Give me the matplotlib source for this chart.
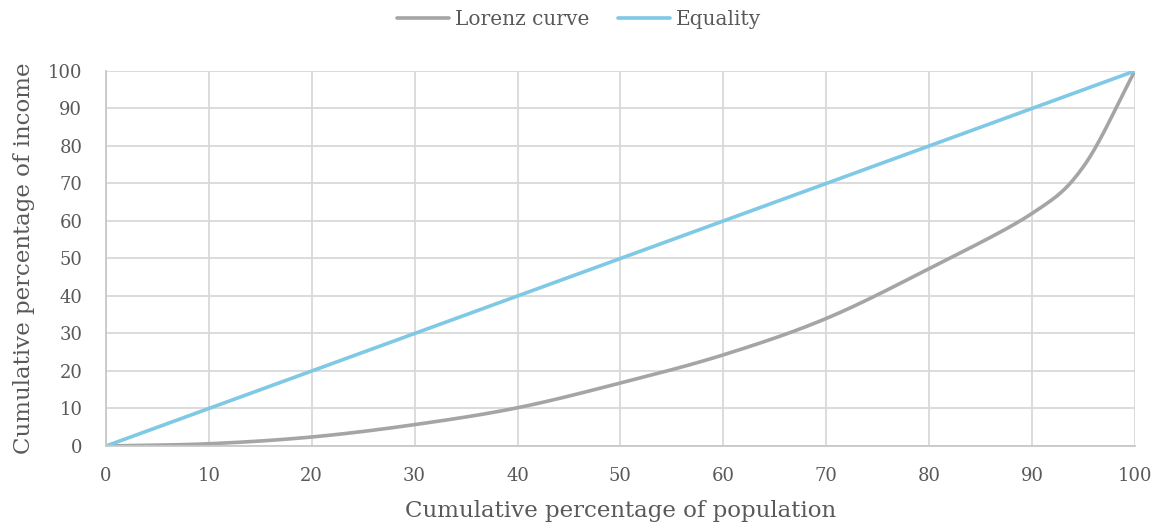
import numpy as np
import matplotlib.pyplot as plt

# cumulative % of population vs cumulative % of income
population = [0, 10, 20, 30, 40, 50, 60, 70, 80, 90, 95, 100]
lorenz = [0, 0.6, 2.4, 5.7, 10.2, 16.8, 24.3, 34.0, 47.3, 62.0, 74.5, 100]
equality = [0, 10, 20, 30, 40, 50, 60, 70, 80, 90, 95, 100]

x_ticks = list(range(0, 101, 10))
y_ticks = list(range(0, 101, 10))


def smooth(x, y, n=30):
    # catmull-rom style smoothing, like a spreadsheet "smoothed line"
    x = np.asarray(x, float)
    y = np.asarray(y, float)
    px = np.concatenate([[2 * x[0] - x[1]], x, [2 * x[-1] - x[-2]]])
    py = np.concatenate([[2 * y[0] - y[1]], y, [2 * y[-1] - y[-2]]])
    xs, ys = [], []
    t = np.linspace(0, 1, n, endpoint=False)
    for i in range(1, len(px) - 2):
        p0, p1, p2, p3 = (np.array([px[k], py[k]]) for k in range(i - 1, i + 3))
        b1 = p1 + (p2 - p0) / 6
        b2 = p2 - (p3 - p1) / 6
        pts = ((1 - t) ** 3)[:, None] * p1 + (3 * (1 - t) ** 2 * t)[:, None] * b1 \
            + (3 * (1 - t) * t ** 2)[:, None] * b2 + (t ** 3)[:, None] * p2
        xs.extend(pts[:, 0])
        ys.extend(pts[:, 1])
    xs.append(x[-1])
    ys.append(y[-1])
    return np.array(xs), np.array(ys)


plt.rcParams['font.family'] = ['DejaVu Serif']
txt = '#595959'

fig = plt.figure(figsize=(11.58, 5.27), dpi=100)
ax = fig.add_axes([0.0915, 0.1537, 0.8885, 0.7116])

lx, ly = smooth(population, lorenz)
ax.plot(lx, ly, color='#a5a5a5', lw=2.6, label='Lorenz curve', solid_capstyle='round')
ax.plot(population, equality, color='#7fc8e6', lw=2.6, label='Equality', solid_capstyle='round')

ax.set_xlim(0, 100)
ax.set_ylim(0, 100)
ax.set_xticks(x_ticks)
ax.set_yticks(y_ticks)
ax.tick_params(length=0, labelsize=13, colors=txt)
ax.tick_params(axis='y', pad=17)
ax.tick_params(axis='x', pad=15)
ax.grid(True, color='#d9d9d9', lw=1.3)
ax.set_axisbelow(True)
for s in ['top', 'right']:
    ax.spines[s].set_visible(False)
for s in ['left', 'bottom']:
    ax.spines[s].set_color('#c8c8c8')
    ax.spines[s].set_linewidth(1.3)

ax.set_xlabel('Cumulative percentage of population', fontsize=16.5, color=txt, labelpad=11)
ax.set_ylabel('Cumulative percentage of income', fontsize=16.5, color=txt, labelpad=9)

fig.legend(loc='upper center', bbox_to_anchor=(0.5, 1.015), ncol=2, frameon=False,
           fontsize=14.5, labelcolor=txt, handlelength=2.6, columnspacing=1.4,
           handletextpad=0.3)

fig.savefig('out.png', dpi=100)
